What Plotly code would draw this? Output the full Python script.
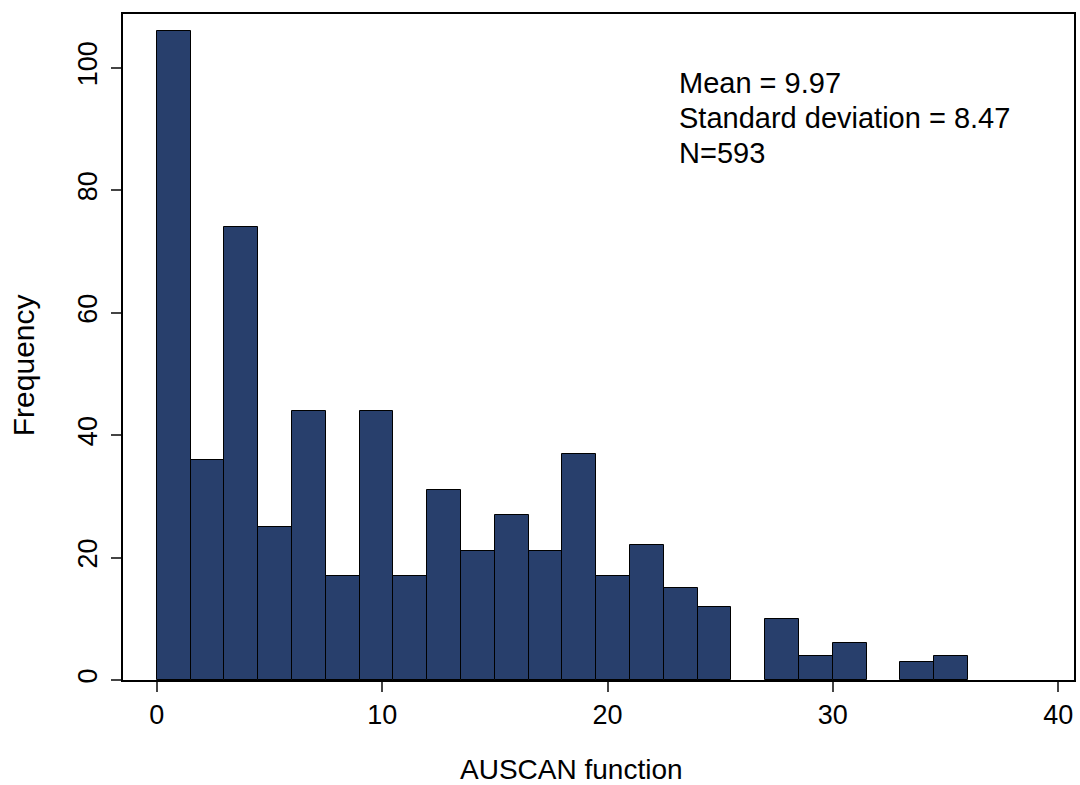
import plotly.graph_objects as go

# Histogram data (bin width 1.5, from 0 to 36)
bin_start = 0.0
bin_width = 1.5
counts = [106, 36, 74, 25, 44, 17, 44, 17, 31, 21, 27, 21,
          37, 17, 22, 15, 12, 0, 10, 4, 6, 0, 3, 4]
x_ticks = [0, 10, 20, 30, 40]
y_ticks = [0, 20, 40, 60, 80, 100]
stats_lines = ["Mean = 9.97", "Standard deviation = 8.47", "N=593"]
x_title = "AUSCAN function"
y_title = "Frequency"

centers = [bin_start + bin_width * (i + 0.5) for i in range(len(counts))]
line_widths = [1 if c > 0 else 0 for c in counts]

fig = go.Figure()
fig.add_trace(go.Bar(
    x=centers, y=counts, width=[bin_width] * len(counts),
    marker=dict(color="#283f6c", line=dict(color="black", width=line_widths)),
    showlegend=False,
))

font = "Liberation Sans, Arial, sans-serif"

for i, txt in enumerate(stats_lines):
    fig.add_annotation(
        x=23.1, y=97.5 - 5.7 * i, xref="x", yref="y",
        text=txt, showarrow=False, xanchor="left", yanchor="middle",
        font=dict(family=font, size=29, color="black"), align="left",
    )

# axis titles placed as in the reference
fig.add_annotation(
    x=(572 - 123) / 953, y=(680 - 769) / 666, xref="paper", yref="paper",
    text=x_title, showarrow=False, xanchor="center", yanchor="middle",
    font=dict(family=font, size=28, color="black"),
)
fig.add_annotation(
    x=(24 - 123) / 953, y=(680 - 365) / 666, xref="paper", yref="paper",
    text=y_title, showarrow=False, xanchor="center", yanchor="middle",
    textangle=-90, font=dict(family=font, size=30, color="black"),
)

fig.update_layout(
    width=1080, height=785,
    margin=dict(l=123, r=4, t=14, b=105),
    paper_bgcolor="white", plot_bgcolor="white",
    font=dict(family=font, color="black"),
    bargap=0,
)
fig.update_xaxes(
    range=[-1.5, 40.7], tickvals=x_ticks, ticktext=[str(v) for v in x_ticks],
    showline=True, mirror=True, linecolor="black", linewidth=1.5,
    ticks="outside", ticklen=10, tickcolor="#444", tickwidth=1.5,
    showgrid=False, zeroline=False,
    tickfont=dict(size=27),
)
fig.update_yaxes(
    range=[0, 108.8], tickvals=y_ticks, ticktext=[str(v) for v in y_ticks],
    showline=True, mirror=True, linecolor="black", linewidth=1.5,
    ticks="outside", ticklen=10, tickcolor="#444", tickwidth=1.5,
    showgrid=False, zeroline=False, tickangle=-90,
    tickfont=dict(size=27), ticklabelstandoff=3,
)

fig.write_html("out.html")
